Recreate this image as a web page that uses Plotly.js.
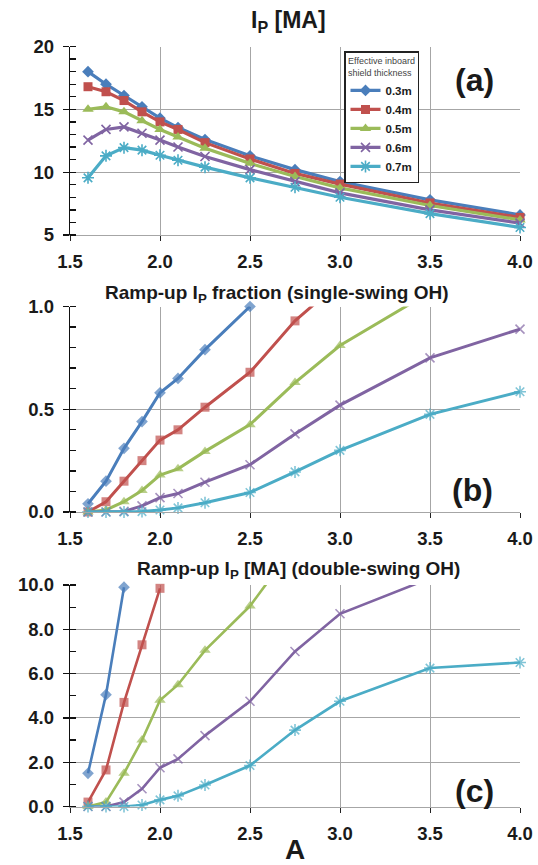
<!DOCTYPE html>
<html>
<head>
<meta charset="utf-8">
<script src="https://cdn.plot.ly/plotly-3.0.1.min.js"></script>
<style>html,body{margin:0;padding:0;background:#fff;}#chart{width:538px;height:865px;}</style>
</head>
<body>
<div id="chart"></div>
<script>
// Aspect ratio A
const aspect = [1.6, 1.7, 1.8, 1.9, 2.0, 2.1, 2.25, 2.5, 2.75, 3.0, 3.5, 4.0];
const seriesNames = ['0.3m', '0.4m', '0.5m', '0.6m', '0.7m'];

// (a) Ip [MA]
const ip03 = [18.0, 17.0, 16.1, 15.2, 14.3, 13.55, 12.6, 11.3, 10.2, 9.25, 7.8, 6.6];
const ip04 = [16.8, 16.4, 15.7, 14.8, 14.0, 13.4, 12.35, 11.05, 9.9, 9.05, 7.55, 6.4];
const ip05 = [15.0, 15.2, 14.8, 14.1, 13.4, 12.8, 11.9, 10.7, 9.65, 8.75, 7.35, 6.2];
const ip06 = [12.55, 13.4, 13.6, 13.1, 12.55, 12.0, 11.25, 10.2, 9.25, 8.35, 7.0, 5.95];
const ip07 = [9.55, 11.3, 11.95, 11.75, 11.35, 10.95, 10.4, 9.55, 8.8, 8.0, 6.7, 5.6];

// (b) Ramp-up Ip fraction (single-swing OH)
const frac03 = [0.04, 0.15, 0.31, 0.44, 0.58, 0.65, 0.79, 1.0];
const frac04 = [0.0, 0.05, 0.15, 0.25, 0.35, 0.40, 0.51, 0.68, 0.93, 1.12];
const frac05 = [0.0, 0.01, 0.05, 0.105, 0.18, 0.21, 0.295, 0.425, 0.63, 0.81, 1.07];
const frac06 = [0.0, 0.0, 0.003, 0.03, 0.07, 0.09, 0.145, 0.23, 0.38, 0.52, 0.75, 0.89];
const frac07 = [0.0, 0.0, 0.0, 0.002, 0.01, 0.02, 0.045, 0.095, 0.195, 0.30, 0.475, 0.585];

// (c) Ramp-up Ip [MA] (double-swing OH)
const dbl03 = [1.5, 5.05, 9.9];
const dbl04 = [0.2, 1.65, 4.7, 7.3, 9.85];
const dbl05 = [0.0, 0.2, 1.5, 3.0, 4.8, 5.5, 7.05, 9.05, 11.8];
const dbl06 = [0.0, 0.0, 0.2, 0.8, 1.75, 2.15, 3.2, 4.75, 7.0, 8.7, 10.3];
const dbl07 = [0.0, 0.0, 0.0, 0.07, 0.3, 0.48, 0.97, 1.85, 3.45, 4.75, 6.25, 6.5];

// tick labels
const xTicks = [1.5, 2.0, 2.5, 3.0, 3.5, 4.0];

const colors = ['#4A7EBB', '#C0504D', '#9BBB59', '#8064A2', '#4BACC6'];
const symbols = ['diamond', 'square', 'triangle-up', 'x-thin-open', 'asterisk-open'];
const baseSizes = [9, 9, 10, 9, 10];

const FONT = 'Liberation Sans, Arial, Helvetica, sans-serif';

function makeTraces(ysets, xa, ya, ymax, lw, showLegend) {
  return ysets.map((ys, i) => {
    const xs = aspect.slice(0, ys.length);
    const sz = ys.map(v => (v > ymax ? 0 : baseSizes[i]));
    return {
      type: 'scatter', mode: 'lines+markers',
      x: xs, y: ys, xaxis: xa, yaxis: ya,
      name: seriesNames[i], legendgroup: seriesNames[i], showlegend: showLegend,
      cliponaxis: false,
      line: {color: colors[i], width: lw},
      marker: {
        symbol: symbols[i], color: colors[i],
        size: showLegend ? baseSizes[i] : sz,
        line: {color: colors[i], width: i >= 3 ? 1.6 : 0}
      }
    };
  });
}

const traces = [].concat(
  makeTraces([ip03, ip04, ip05, ip06, ip07], 'x', 'y', 20, 3.2, true),
  makeTraces([frac03, frac04, frac05, frac06, frac07], 'x2', 'y2', 1.0, 3, false),
  makeTraces([dbl03, dbl04, dbl05, dbl06, dbl07], 'x3', 'y3', 10, 2.6, false)
);

const W = 538, H = 865;
const xDom = [70 / W, 520 / W];
function yDom(top, bot) { return [1 - bot / H, 1 - top / H]; }

const TICKFONT = {family: FONT, size: 18.5, color: '#1a1a1a', weight: 'bold'};

function xAxis(anchor, dom) {
  return {
    anchor: anchor, domain: dom, range: [1.5, 4.0],
    tickmode: 'array', tickvals: xTicks, tickformat: '.1f',
    showgrid: true, gridcolor: '#a6a6a6', gridwidth: 1,
    showline: true, linecolor: '#a6a6a6', linewidth: 1,
    zeroline: false,
    ticks: 'outside', ticklen: 5, tickcolor: '#222', tickwidth: 1,
    ticklabelstandoff: 5,
    tickfont: TICKFONT
  };
}
function yAxis(anchor, dom, range, dtick, minor, fmt) {
  return {
    anchor: anchor, domain: dom, range: range,
    dtick: dtick, tick0: range[0], tickformat: fmt,
    showgrid: true, gridcolor: '#a6a6a6', gridwidth: 1,
    showline: true, linecolor: '#111', linewidth: 1.3,
    zeroline: false,
    ticks: 'outside', ticklen: 6, tickcolor: '#111', tickwidth: 1.3,
    ticklabelstandoff: 5,
    minor: {dtick: minor, ticks: 'inside', ticklen: 6, tickcolor: '#111', tickwidth: 1.3, showgrid: false},
    tickfont: TICKFONT
  };
}

const layout = {
  width: W, height: H,
  margin: {l: 0, r: 0, t: 0, b: 0},
  paper_bgcolor: '#ffffff', plot_bgcolor: '#ffffff',
  font: {family: FONT, color: '#1a1a1a'},
  xaxis: xAxis('y', xDom),
  yaxis: yAxis('x', yDom(46.5, 235), [5, 20], 5, 1, 'd'),
  xaxis2: xAxis('y2', xDom),
  yaxis2: yAxis('x2', yDom(306.5, 512), [0, 1], 0.5, 0.1, '.1f'),
  xaxis3: Object.assign(xAxis('y3', xDom), {
    title: {text: 'A', font: {family: FONT, size: 28, color: '#1a1a1a', weight: 'bold'}, standoff: 0}
  }),
  yaxis3: yAxis('x3', yDom(585, 806.5), [0, 10], 2, 1, '.1f'),
  showlegend: true,
  legend: {
    x: 344 / W, y: 1 - 51 / H, xanchor: 'left', yanchor: 'top',
    bgcolor: '#ffffff', bordercolor: '#222', borderwidth: 1.5,
    font: {family: FONT, size: 11.5, color: '#1a1a1a', weight: 'bold'},
    title: {text: 'Effective inboard<br>shield thickness', side: 'top center',
            font: {family: FONT, size: 9, color: '#444', weight: 'normal'}},
    itemwidth: 30, tracegroupgap: 0
  },
  annotations: [
    {text: 'I<sub>P</sub> [MA]', xref: 'paper', yref: 'paper', x: 288 / W, y: 1 - 22 / H,
     xanchor: 'center', yanchor: 'middle', showarrow: false,
     font: {family: FONT, size: 23, color: '#1a1a1a', weight: 'bold'}},
    {text: 'Ramp-up I<sub>P</sub> fraction (single-swing OH)', xref: 'paper', yref: 'paper',
     x: 277 / W, y: 1 - 294 / H, xanchor: 'center', yanchor: 'middle', showarrow: false,
     font: {family: FONT, size: 19, color: '#1a1a1a', weight: 'bold'}},
    {text: 'Ramp-up I<sub>P</sub> [MA] (double-swing OH)', xref: 'paper', yref: 'paper',
     x: 298 / W, y: 1 - 570 / H, xanchor: 'center', yanchor: 'middle', showarrow: false,
     font: {family: FONT, size: 19, color: '#1a1a1a', weight: 'bold'}},
    {text: '(a)', xref: 'paper', yref: 'paper', x: 474 / W, y: 1 - 80 / H,
     xanchor: 'center', yanchor: 'middle', showarrow: false,
     font: {family: FONT, size: 32, color: '#1a1a1a', weight: 'bold'}},
    {text: '(b)', xref: 'paper', yref: 'paper', x: 472 / W, y: 1 - 490 / H,
     xanchor: 'center', yanchor: 'middle', showarrow: false,
     font: {family: FONT, size: 32, color: '#1a1a1a', weight: 'bold'}},
    {text: '(c)', xref: 'paper', yref: 'paper', x: 474 / W, y: 1 - 791 / H,
     xanchor: 'center', yanchor: 'middle', showarrow: false,
     font: {family: FONT, size: 32, color: '#1a1a1a', weight: 'bold'}}
  ]
};

Plotly.newPlot('chart', traces, layout, {staticPlot: true, displayModeBar: false});
</script>
</body>
</html>
